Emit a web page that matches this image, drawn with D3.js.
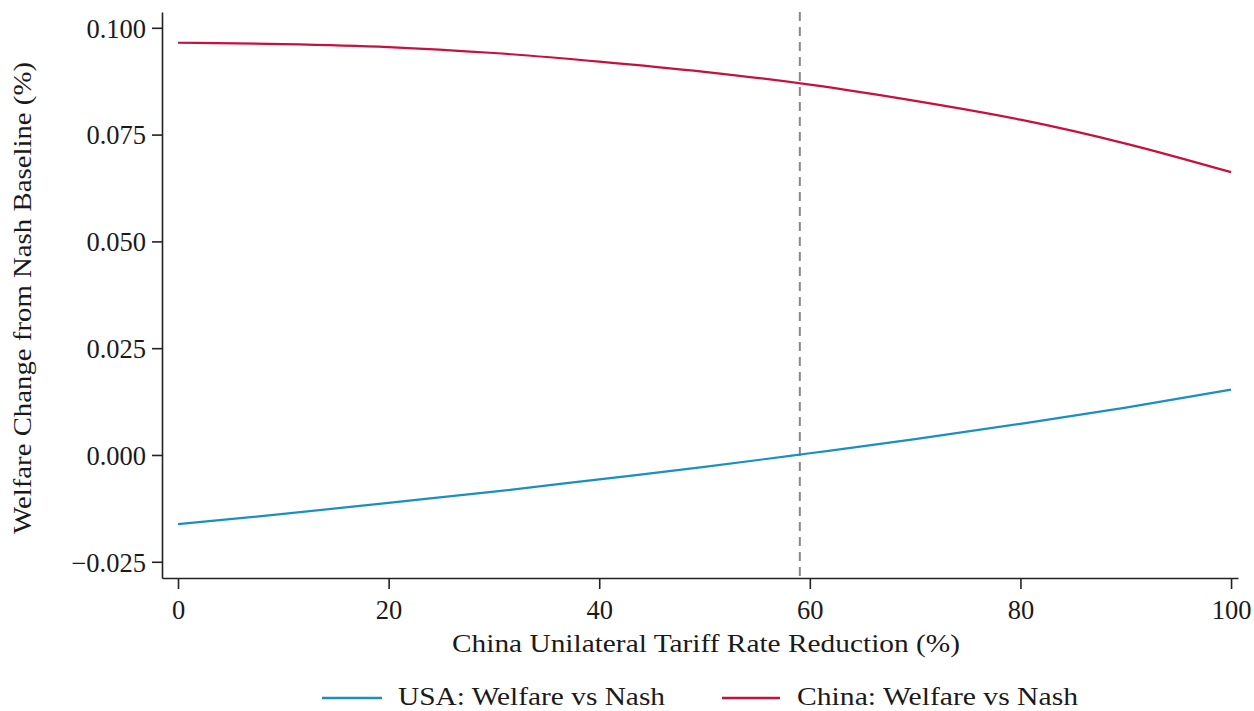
<!DOCTYPE html>
<html>
<head>
<meta charset="utf-8">
<script src="https://cdn.jsdelivr.net/npm/d3@7"></script>
<style>
  html, body { margin: 0; padding: 0; background: #fff; }
  svg { display: block; }
  text { font-family: "Liberation Serif", "DejaVu Serif", serif; fill: #1a1a1a; }
</style>
</head>
<body>
<svg id="chart" width="1254" height="711"></svg>
<script>
// ---- data ----
const reduction = [0, 10, 20, 30, 40, 50, 60, 70, 80, 90, 100];
const usaWelfare = [-0.0162, -0.0138, -0.0112, -0.0086, -0.0057, -0.0028, 0.0004, 0.0037, 0.0073, 0.0111, 0.0153];
const chinaWelfare = [0.0965, 0.0962, 0.0955, 0.0941, 0.0921, 0.0897, 0.0867, 0.0829, 0.0785, 0.0729, 0.0662];
const xTicks = [0, 20, 40, 60, 80, 100];
const yTicks = [-0.025, 0, 0.025, 0.05, 0.075, 0.1];
const yTickLabels = ["\u22120.025", "0.000", "0.025", "0.050", "0.075", "0.100"];
const breakEven = 59.05;
const seriesNames = ["USA: Welfare vs Nash", "China: Welfare vs Nash"];
const seriesColors = ["#1a8fc2", "#c8103e"];
const xTitle = "China Unilateral Tariff Rate Reduction (%)";
const yTitle = "Welfare Change from Nash Baseline (%)";

// ---- layout ----
const svg = d3.select("#chart");
const mLeft = 162, mRight = 1238, mTop = 12, mBottom = 578;

const x = d3.scaleLinear().domain([-1.52, 100.66]).range([mLeft, mRight]);
const y = d3.scaleLinear().domain([-0.0288, 0.1037]).range([mBottom, mTop]);

const axisColor = "#222";

// axes
const xAxis = svg.append("g").attr("transform", `translate(0,${mBottom})`)
  .call(d3.axisBottom(x).tickValues(xTicks).tickSize(11).tickSizeOuter(0).tickFormat(d3.format("d")));
const yAxis = svg.append("g").attr("transform", `translate(${mLeft},0)`)
  .call(d3.axisLeft(y).tickValues(yTicks).tickSize(10).tickSizeOuter(0).tickFormat((d, i) => yTickLabels[i]));

[xAxis, yAxis].forEach(g => {
  g.select(".domain").attr("stroke", axisColor).attr("stroke-width", 1.6);
  g.selectAll(".tick line").attr("stroke", axisColor).attr("stroke-width", 1.6);
  g.selectAll(".tick text").attr("fill", "#1a1a1a").style("font-size", "26.5px")
    .style("font-family", '"Liberation Serif", serif');
});
xAxis.selectAll(".tick text").attr("dy", "0.95em").attr("y", 16);
yAxis.selectAll(".tick text").attr("x", -16).attr("dy", "0.35em");

// reference dashed line
svg.append("line")
  .attr("x1", x(breakEven)).attr("x2", x(breakEven))
  .attr("y1", mTop).attr("y2", mBottom)
  .attr("stroke", "#888").attr("stroke-width", 2)
  .attr("stroke-dasharray", "9,6");

// lines
const line = d3.line().x((d, i) => x(reduction[i])).y(d => y(d)).curve(d3.curveMonotoneX);
[usaWelfare, chinaWelfare].forEach((s, k) => {
  svg.append("path").datum(s)
    .attr("fill", "none")
    .attr("stroke", seriesColors[k])
    .attr("stroke-width", 2.2)
    .attr("d", line);
});

// axis titles
svg.append("text")
  .attr("x", 706).attr("y", 652)
  .attr("text-anchor", "middle")
  .attr("textLength", 508).attr("lengthAdjust", "spacingAndGlyphs")
  .style("font-size", "26px")
  .text(xTitle);

svg.append("text")
  .attr("transform", `translate(31,298) rotate(-90)`)
  .attr("text-anchor", "middle")
  .attr("textLength", 472).attr("lengthAdjust", "spacingAndGlyphs")
  .style("font-size", "26px")
  .text(yTitle);

// legend
const legendY = 698;
const legendItems = [
  { x0: 322, x1: 382, tx: 398, w: 267 },
  { x0: 722, x1: 780, tx: 797, w: 281 }
];
legendItems.forEach((it, k) => {
  svg.append("line")
    .attr("x1", it.x0).attr("x2", it.x1)
    .attr("y1", legendY).attr("y2", legendY)
    .attr("stroke", seriesColors[k]).attr("stroke-width", 2.4);
  svg.append("text")
    .attr("x", it.tx).attr("y", 705)
    .attr("textLength", it.w).attr("lengthAdjust", "spacingAndGlyphs")
    .style("font-size", "24.5px")
    .text(seriesNames[k]);
});
</script>
</body>
</html>
